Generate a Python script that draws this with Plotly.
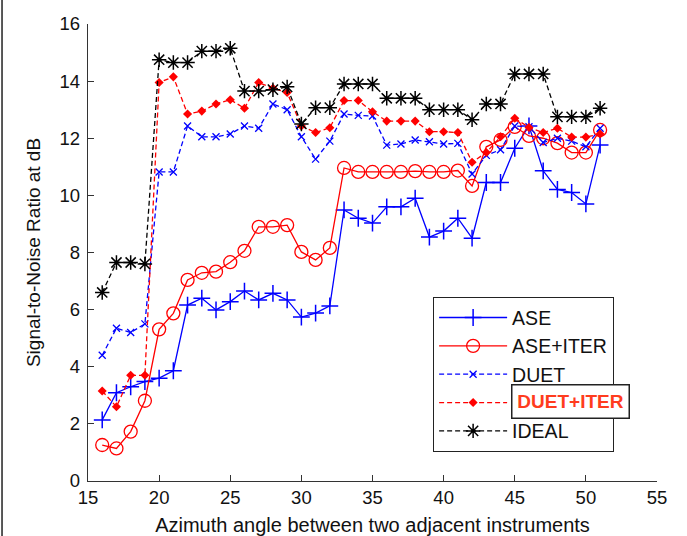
import plotly.graph_objects as go

angles = list(range(16, 52))
ase = [2.14, 3.09, 3.3, 3.48, 3.6, 3.86, 6.16, 6.4, 5.99, 6.28, 6.65, 6.34, 6.57, 6.34, 5.74, 5.88, 6.13, 9.49,
       9.2, 9.03, 9.6, 9.6, 9.9, 8.54, 8.75, 9.2, 8.5, 10.45, 10.45, 11.65, 12.43, 10.86, 10.21, 10.1, 9.7, 11.76]
ase_iter = [1.26, 1.14, 1.73, 2.81, 5.31, 5.87, 7.04, 7.29, 7.33, 7.66, 8.06, 8.9, 8.9, 8.96, 8.02, 7.74, 8.16,
            10.96, 10.82, 10.82, 10.82, 10.82, 10.85, 10.82, 10.82, 10.87, 10.33, 11.7, 11.94, 12.4, 12.08, 12.0,
            11.83, 11.5, 11.5, 12.29]
duet = [4.4, 5.35, 5.2, 5.5, 10.82, 10.82, 12.43, 12.05, 12.05, 12.15, 12.43, 12.35, 13.2, 13.0, 12.05, 11.27,
        11.9, 12.85, 12.8, 12.78, 11.76, 11.8, 11.94, 11.88, 11.8, 11.82, 10.75, 11.4, 11.6, 12.43, 12.4, 11.85,
        12.0, 11.9, 11.7, 12.35]
duet_iter = [3.15, 2.6, 3.7, 3.7, 13.95, 14.15, 12.85, 12.95, 13.2, 13.35, 13.05, 13.95, 13.75, 13.6, 12.43,
             12.2, 12.37, 13.32, 13.32, 12.93, 12.6, 12.6, 12.6, 12.23, 12.23, 12.2, 11.16, 11.5, 12.05, 12.7,
             12.38, 12.2, 12.35, 12.04, 12.04, 12.15]
ideal = [6.6, 7.65, 7.65, 7.6, 14.75, 14.65, 14.65, 15.05, 15.05, 15.15, 13.65, 13.65, 13.7, 13.8, 12.5, 13.07,
         13.07, 13.9, 13.9, 13.9, 13.4, 13.4, 13.4, 13.0, 13.0, 13.0, 12.65, 13.2, 13.2, 14.25, 14.25, 14.25,
         12.75, 12.75, 12.75, 13.05]

x_ticks = [15, 20, 25, 30, 35, 40, 45, 50, 55]
y_ticks = [0, 2, 4, 6, 8, 10, 12, 14, 16]

BLUE = "#0000FF"
RED = "#FF0000"
BLACK = "#000000"
DASH = "5px,3px"

fig = go.Figure()
fig.add_trace(go.Scatter(x=angles, y=ase, name="ASE", mode="lines+markers", legendgroup="a",
                         line=dict(color=BLUE, width=1.3),
                         marker=dict(symbol="cross-thin-open", size=12, color=BLUE, line=dict(color=BLUE, width=1.5))))
fig.add_trace(go.Scatter(x=angles, y=ase_iter, name="ASE+ITER", mode="lines+markers", legendgroup="b",
                         line=dict(color=RED, width=1.3),
                         marker=dict(symbol="circle-open", size=13, color=RED, line=dict(color=RED, width=1.3))))
fig.add_trace(go.Scatter(x=angles, y=duet, name="DUET", mode="lines+markers", legendgroup="c",
                         line=dict(color=BLUE, width=1.3, dash=DASH),
                         marker=dict(symbol="x-thin-open", size=7, color=BLUE, line=dict(color=BLUE, width=1.3))))
fig.add_trace(go.Scatter(x=angles, y=duet_iter, name=" ", mode="lines+markers", legendgroup="d",
                         line=dict(color=RED, width=1.3, dash=DASH),
                         marker=dict(symbol="diamond", size=7, color=RED)))
fig.add_trace(go.Scatter(x=angles, y=ideal, name="IDEAL", mode="lines+markers", legendgroup="e",
                         line=dict(color=BLACK, width=1.3, dash=DASH),
                         marker=dict(symbol="asterisk-open", size=12, color=BLACK, line=dict(color=BLACK, width=1.5))))

font = "Liberation Sans, Arial, sans-serif"
fig.update_layout(
    width=687, height=536,
    margin=dict(l=88, r=30, t=24, b=55, autoexpand=False),
    paper_bgcolor="white", plot_bgcolor="white",
    font=dict(family=font, size=18, color="#111"),
    showlegend=True,
    legend=dict(x=0.606, y=0.4026, xanchor="left", yanchor="top",
                bgcolor="white", bordercolor="#222", borderwidth=1.3,
                font=dict(size=19.5, family=font, color="#111"),
                traceorder="grouped", tracegroupgap=0, itemwidth=68),
    xaxis=dict(range=[15, 55], tickvals=x_ticks, ticktext=[str(v) for v in x_ticks],
               showgrid=False, zeroline=False, showline=True, linecolor="#333", linewidth=1.3,
               ticks="inside", ticklen=6, tickcolor="#333", mirror=False, automargin=False,
               title=dict(text="Azimuth angle between two adjacent instruments", standoff=10,
                          font=dict(size=20, family=font, color="#111")),
               tickfont=dict(size=18.5, family=font, color="#111")),
    yaxis=dict(range=[0, 16], tickvals=y_ticks, ticktext=[str(v) for v in y_ticks],
               showgrid=False, zeroline=False, showline=True, linecolor="#333", linewidth=1.3,
               ticks="inside", ticklen=6, tickcolor="#333", mirror=False, automargin=False,
               ticklabelstandoff=3,
               title=dict(text="Signal-to-Noise Ratio at dB", standoff=13,
                          font=dict(size=19, family=font, color="#111")),
               tickfont=dict(size=18.5, family=font, color="#111")),
)

fig.add_annotation(xref="paper", yref="paper", x=0.8488, y=0.174, xanchor="center", yanchor="middle",
                   text="<b>DUET+ITER</b>", showarrow=False, bgcolor="white", bordercolor="#222",
                   borderwidth=1.5, width=114, height=30,
                   font=dict(size=19, family=font, color="#FF3C1E"))

fig.add_shape(type="line", xref="paper", yref="paper", x0=-0.1511, x1=-0.1511, y0=-0.2, y1=1.06,
              line=dict(color="#222", width=1.5))

fig.write_html("out.html", post_script="document.body.style.margin='0';",
               config={"displayModeBar": False})
